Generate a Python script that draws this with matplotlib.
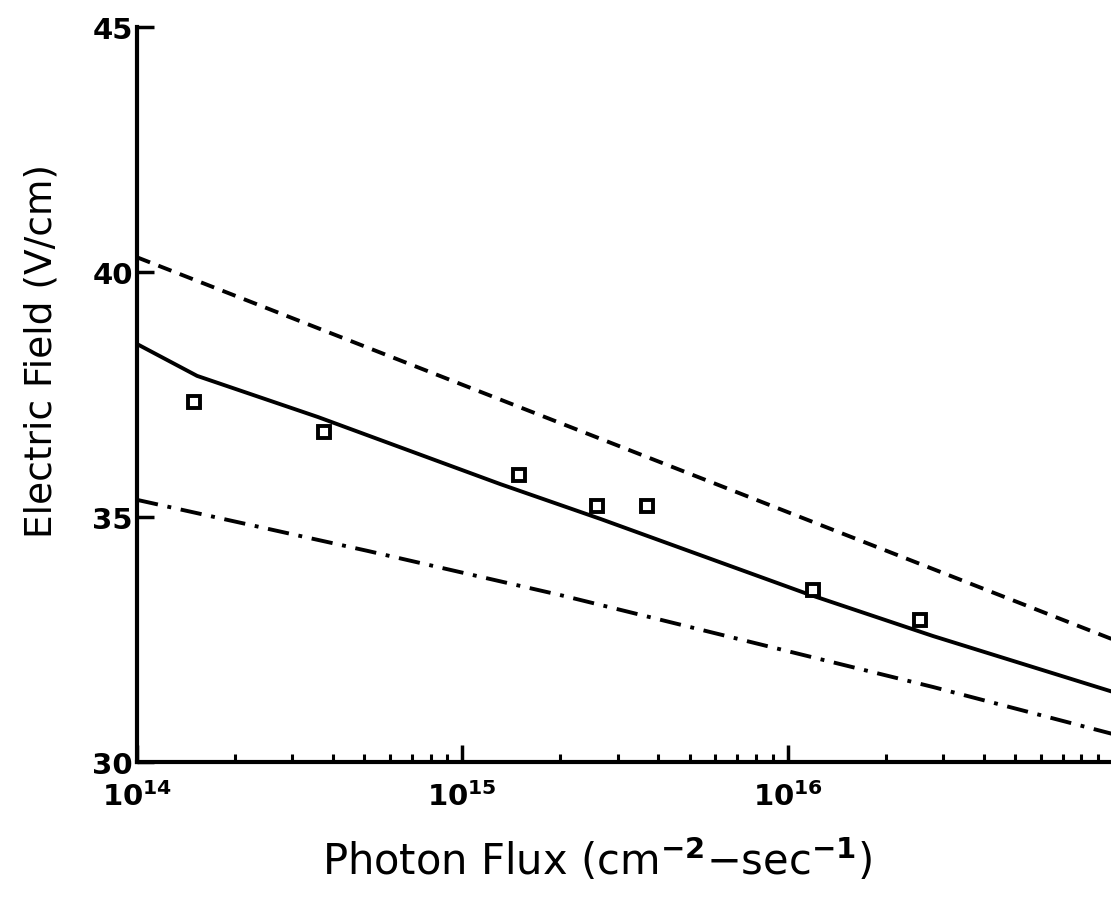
import matplotlib
matplotlib.use("Agg")
import matplotlib.pyplot as plt
import numpy as np
from matplotlib.ticker import FixedLocator, LogLocator, NullFormatter

# values
flux_solid = [1.0e14, 1.53e14, 3.6e14, 1.31e15, 2.66e15, 1.15e16, 2.8e16, 1.0e17]
field_solid = [38.53, 37.88, 37.04, 35.67, 34.96, 33.43, 32.57, 31.43]

flux_dash = [1.0e14, 1.0e15, 1.0e16, 1.0e17]
field_dash = [40.3, 37.7, 35.1, 32.5]

flux_dashdot = [1.0e14, 5.1e14, 2.05e15, 2.8e16, 1.0e17]
field_dashdot = [35.35, 34.31, 33.39, 31.53, 30.57]

flux_meas = [1.5e14, 3.76e14, 1.49e15, 2.6e15, 3.7e15, 1.2e16, 2.55e16]
field_meas = [37.35, 36.73, 35.86, 35.22, 35.22, 33.51, 32.90]

yticks = [30, 35, 40, 45]
xticks = [1e14, 1e15, 1e16]

plt.rcParams['font.family'] = ['DejaVu Sans']

fig = plt.figure(figsize=(11.11, 9.04), dpi=100)
ax = fig.add_axes([137 / 1111, 141 / 904, 976 / 1111, 735 / 904])

lw = 2.8
ax.plot(flux_solid, field_solid, color='black', lw=lw, solid_capstyle='butt')
ax.plot(flux_dash, field_dash, color='black', lw=lw, dashes=(3.6, 2.3))
ax.plot(flux_dashdot, field_dashdot, color='black', lw=lw, dashes=(5.5, 2.5, 1.0, 2.5))
ax.plot(flux_meas, field_meas, linestyle='none', marker='s', markersize=8,
        markerfacecolor='white', markeredgecolor='black', markeredgewidth=2.8)

ax.set_xscale('log')
ax.set_xlim(1e14, 1e17)
ax.set_ylim(30, 45)
ax.set_yticks(yticks)
ax.set_yticklabels([str(t) for t in yticks])
ax.xaxis.set_major_locator(FixedLocator(xticks))
ax.set_xticklabels([r'$\mathbf{10^{%d}}$' % int(np.log10(v)) for v in xticks])
ax.xaxis.set_minor_locator(LogLocator(base=10, subs=np.arange(2, 10), numticks=20))
ax.xaxis.set_minor_formatter(NullFormatter())

for s in ['top', 'right']:
    ax.spines[s].set_visible(False)
for s in ['left', 'bottom']:
    ax.spines[s].set_linewidth(3)

ax.tick_params(axis='both', which='major', direction='in', length=12, width=2.5,
               labelsize=21)
ax.tick_params(axis='x', which='major', pad=14)
ax.tick_params(axis='y', which='major', pad=3)
ax.tick_params(axis='x', which='minor', direction='in', length=6, width=2.2)
ax.tick_params(axis='y', which='minor', left=False)
for lab in ax.get_yticklabels():
    lab.set_fontweight('bold')

ax.set_xlabel(r'Photon Flux (cm$^{\mathbf{-2}}$$-$sec$^{\mathbf{-1}}$)', fontsize=30)
ax.set_ylabel('Electric Field (V/cm)', fontsize=27)
ax.xaxis.set_label_coords(0.471, -0.1)
ax.yaxis.set_label_coords(-0.079, 0.56)

fig.savefig('out.png', dpi=100)
